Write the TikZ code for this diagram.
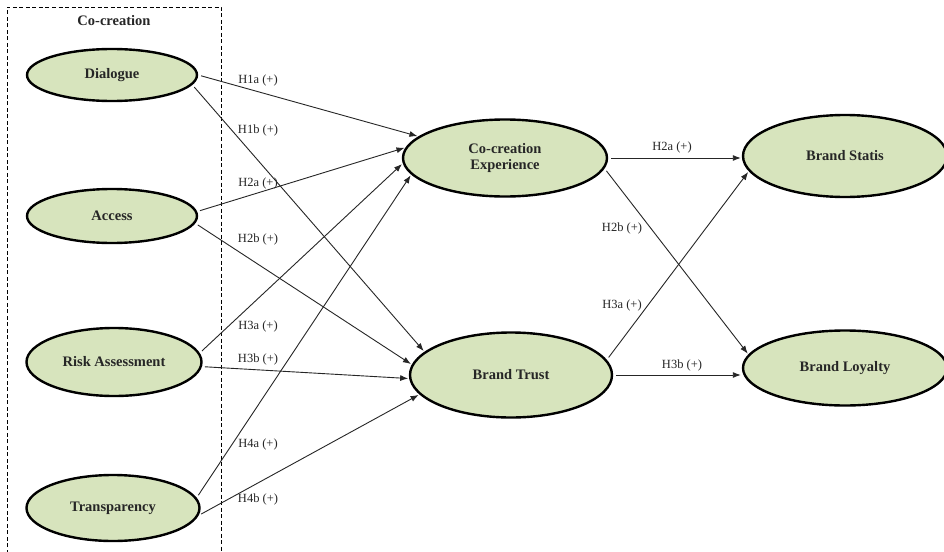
\documentclass[tikz,border=0pt]{standalone}
\usepackage{fontspec}
\setmainfont{Liberation Serif}
\usetikzlibrary{shapes.geometric,arrows.meta}

\definecolor{constructfill}{HTML}{D7E4BD}
\definecolor{inkgray}{HTML}{262626}

\tikzset{
  construct/.style={ellipse, draw=black, line width=2.4pt, fill=constructfill,
    inner sep=0pt, align=center, text=inkgray,
    font=\fontsize{14.5}{15.5}\selectfont\bfseries},
  path/.style={draw=inkgray, line width=0.9pt, shorten <=3pt, shorten >=1pt,
    -{Latex[length=8pt,width=6pt]}},
  hyp/.style={inner sep=0pt, text=inkgray, font=\fontsize{12.5}{13}\selectfont},
  groupbox/.style={draw=black, line width=0.8pt, dash pattern=on 4pt off 2.5pt}
}

\begin{document}
\begin{tikzpicture}[x=1pt, y=-1pt]
  \useasboundingbox (0,0) rectangle (944,551);
  \fill[white] (0,0) rectangle (944,551);

  % grouping frame of the co-creation dimensions
  \draw[groupbox] (7,560) -- (7,7) -- (221,7) -- (221,560);
  \node[font=\fontsize{14.5}{15.5}\selectfont\bfseries, text=inkgray] (grp) at (114,21) {Co-creation};

  % co-creation dimensions
  \node[construct, minimum width=170pt, minimum height=52pt] (dia) at (112,75) {Dialogue};
  \node[construct, minimum width=170pt, minimum height=54pt] (acc) at (112,216) {Access};
  \node[construct, minimum width=175pt, minimum height=68pt] (risk) at (114,362) {Risk Assessment};
  \node[construct, minimum width=173pt, minimum height=66pt] (tra) at (113,508) {Transparency};

  % mediators
  \node[construct, minimum width=204pt, minimum height=77pt] (cce) at (505,158) {Co-creation\\Experience};
  \node[construct, minimum width=202pt, minimum height=85pt] (bt) at (511,375) {Brand Trust};

  % outcomes
  \node[construct, minimum width=204pt, minimum height=82pt] (bs) at (845,156) {Brand Statis};
  \node[construct, minimum width=204pt, minimum height=75pt] (bl) at (845,368) {Brand Loyalty};

  % paths into the mediators
  \draw[path] (dia.0)   -- (cce.166);
  \draw[path] (dia.-7)  -- (bt.165);
  \draw[path] (acc.3)   -- (cce.174);
  \draw[path] (acc.-5)  -- (bt.174);
  \draw[path] (risk.6)  -- (cce.183);
  \draw[path] (risk.-3) -- (bt.182);
  \draw[path] (tra.7)   -- (cce.190);
  \draw[path] (tra.-5)  -- (bt.192);

  % paths into the outcomes
  \draw[path] (cce.east) -- (cce.east -| bs.west);
  \draw[path] (cce.-6)   -- (bl.172);
  \draw[path] (bt.9)     -- (bs.189);
  \draw[path] (bt.east)  -- (bt.east -| bl.west);

  % hypothesis labels
  \node[hyp] (h1a) at (258,80)  {H1a (+)};
  \node[hyp] (h1b) at (258,130) {H1b (+)};
  \node[hyp] (h2a) at (258,183) {H2a (+)};
  \node[hyp] (h2b) at (258,239) {H2b (+)};
  \node[hyp] (h3a) at (258,326) {H3a (+)};
  \node[hyp] (h3b) at (258,359) {H3b (+)};
  \node[hyp] (h4a) at (258,444) {H4a (+)};
  \node[hyp] (h4b) at (258,499) {H4b (+)};

  \node[hyp] (h2ar) at (672,147) {H2a (+)};
  \node[hyp] (h2br) at (622,228) {H2b (+)};
  \node[hyp] (h3ar) at (622,305) {H3a (+)};
  \node[hyp] (h3br) at (682,365) {H3b (+)};
\end{tikzpicture}
\end{document}
